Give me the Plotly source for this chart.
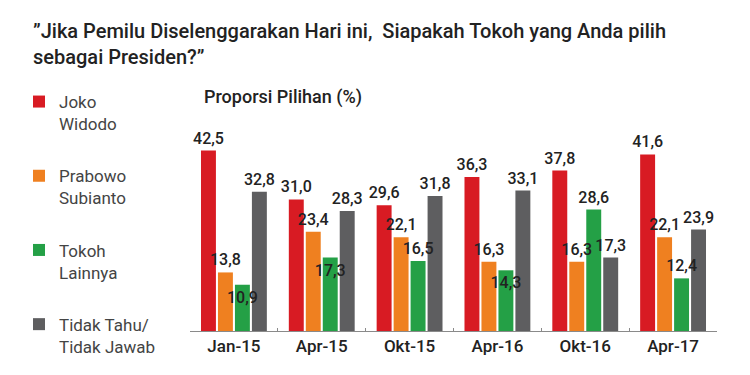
import plotly.graph_objects as go

periods = ["Jan-15", "Apr-15", "Okt-15", "Apr-16", "Okt-16", "Apr-17"]
series_names = ["Joko<br>Widodo", "Prabowo<br>Subianto", "Tokoh<br>Lainnya", "Tidak Tahu/<br>Tidak Jawab"]
joko = [42.5, 31.0, 29.6, 36.3, 37.8, 41.6]
prabowo = [13.8, 23.4, 22.1, 16.3, 16.3, 22.1]
lainnya = [10.9, 17.3, 16.5, 14.3, 28.6, 12.4]
tidak = [32.8, 28.3, 31.8, 33.1, 17.3, 23.9]
colors = ["#d81b23", "#ef8020", "#24a046", "#5e5e60"]

title_text = "”Jika Pemilu Diselenggarakan Hari ini,  Siapakah Tokoh yang Anda pilih<br>sebagai Presiden?”"
subtitle_text = "Proporsi Pilihan (%)"

L, R, T, B = 190, 33, 140, 44
W, H = 750, 375
PW, PH = W - L - R, H - T - B


def px_x(x):
    return (x - L) / PW


def px_y(y):
    return (H - B - y) / PH


# label placement style per series (as in the reference, some green labels sit inside the bar top)
label_pos = [
    "outside",
    "outside",
    ["inside", "inside", "outside", "inside", "outside", "outside"],
    "outside",
]

series = [joko, prabowo, lainnya, tidak]
label_font = dict(family="Roboto", size=16, color="#222222", weight=500)

fig = go.Figure()
# the coloured bars
for i, (name, vals) in enumerate(zip(series_names, series)):
    fig.add_trace(go.Bar(
        x=periods, y=vals, name=name, legendgroup=f"g{i}", offsetgroup=str(i),
        marker=dict(color=colors[i], line=dict(width=0)),
        cliponaxis=False,
    ))
# value labels drawn on top of all bars (transparent twins in the same slot)
for i, vals in enumerate(series):
    fig.add_trace(go.Bar(
        x=periods, y=vals, showlegend=False, legendgroup=f"g{i}", offsetgroup=str(i),
        marker=dict(color="rgba(0,0,0,0)", line=dict(width=0)),
        texttemplate="%{y:.1f}", textposition=label_pos[i], textangle=0,
        insidetextanchor="end",
        textfont=label_font, insidetextfont=label_font, outsidetextfont=label_font,
        constraintext="none", cliponaxis=False, hoverinfo="skip",
    ))

fig.update_layout(
    width=W, height=H,
    margin=dict(l=L, r=R, t=T, b=B, autoexpand=False),
    paper_bgcolor="white", plot_bgcolor="white",
    separators=",.",
    barmode="group", bargap=0.227, bargroupgap=0.12,
    showlegend=True,
    legend=dict(
        x=px_x(19), xanchor="left", y=px_y(84), yanchor="top",
        valign="top", tracegroupgap=27, traceorder="grouped",
        maxheight=375,
        font=dict(family="Roboto", size=17, color="#444444"),
        bgcolor="rgba(0,0,0,0)",
    ),
    xaxis=dict(
        showline=True, linecolor="#8a8a8a", linewidth=1,
        ticks="inside", ticklen=3, tickcolor="#8a8a8a", tickson="boundaries",
        tickfont=dict(family="Roboto", size=17, color="#222222", weight=500),
        showgrid=False, zeroline=False,
    ),
    yaxis=dict(range=[0, 45], visible=False, showgrid=False, zeroline=False),
    annotations=[
        dict(text=title_text, xref="paper", yref="paper", x=px_x(31), y=px_y(44),
             xanchor="left", yanchor="middle", align="left", showarrow=False,
             font=dict(family="Roboto", size=20, color="#222222", weight=500)),
        dict(text=subtitle_text, xref="paper", yref="paper", x=px_x(202), y=px_y(97),
             xanchor="left", yanchor="middle", showarrow=False,
             font=dict(family="Roboto", size=18, color="#222222", weight=500)),
    ],
)

fig.write_html("out.html", config={"displayModeBar": False},
               post_script="document.body.style.margin='0';")
